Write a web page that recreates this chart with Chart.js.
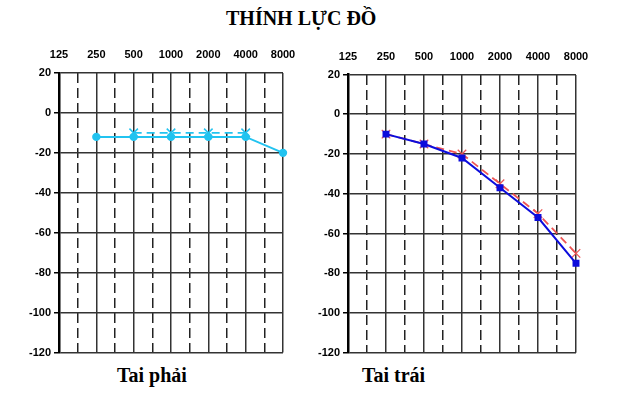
<!DOCTYPE html>
<html>
<head>
<meta charset="utf-8">
<script src="https://cdn.jsdelivr.net/npm/chart.js@4"></script>
<style>
  body { margin: 0; background: #fff; }
  #page { position: relative; width: 640px; height: 406px; background: #fff; overflow: hidden; }
  .txt { position: absolute; font-family: "Liberation Serif", "Times New Roman", serif; font-weight: bold;
         font-size: 20px; line-height: 20px; white-space: nowrap; color: #000; }
  canvas { position: absolute; }
</style>
</head>
<body>
<div id="page">
  <div class="txt" style="left:226px; top:8px;">THÍNH LỰC ĐỒ</div>
  <canvas id="rightEarChart" width="285" height="322" style="left:10px; top:38px;"></canvas>
  <canvas id="leftEarChart" width="285" height="322" style="left:305px; top:38px;"></canvas>
  <div class="txt" style="left:117px; top:365px;">Tai phải</div>
  <div class="txt" style="left:362px; top:365px;">Tai trái</div>
</div>
<script>
// frequency labels along the top (Hz) and dB ticks on the left
const freqLabels = [125, 250, 500, 1000, 2000, 4000, 8000];
const dbTicks = [20, 0, -20, -40, -60, -80, -100, -120];

// Tai phải (right ear)
const rightAirFreqs = [250, 500, 1000, 2000, 4000, 8000];
const rightAirValues = [-12, -12, -12, -12, -12, -20];
const rightBoneFreqs = [500, 1000, 2000, 4000];
const rightBoneValues = [-10, -10, -10, -10];

// Tai trái (left ear)
const leftAirFreqs = [250, 500, 1000, 2000, 4000, 8000];
const leftAirValues = [-10, -15, -22, -37, -52, -75];
const leftBoneFreqs = [250, 500, 1000, 2000, 4000, 8000];
const leftBoneValues = [-10, -15, -20, -35, -50, -70];

const labelFont = { family: '"Liberation Sans", Arial, sans-serif', size: 11, weight: 'bold' };

function toPoints(freqs, values) {
    return freqs.map((f, i) => ({ x: freqLabels.indexOf(f), y: values[i] }));
}

// keep label overflow from shrinking the plot area
function noPad(s) {
    s.paddingLeft = 0;
    s.paddingRight = 0;
    s.paddingTop = 0;
    s.paddingBottom = 0;
}

function makeAudiogram(id, datasets, box) {
    const ctx = document.getElementById(id).getContext('2d');
    const lastIdx = freqLabels.length - 1;
    return new Chart(ctx, {
        type: 'line',
        data: { datasets: datasets },
        options: {
            responsive: false,
            animation: false,
            layout: { padding: { left: 0, top: 0, right: box.padRight, bottom: box.padBottom } },
            plugins: { legend: { display: false }, tooltip: { enabled: false } },
            scales: {
                x: {
                    type: 'linear',
                    position: 'top',
                    min: 0,
                    max: lastIdx,
                    afterBuildTicks: s => { s.ticks = freqLabels.map((f, i) => ({ value: i })); },
                    afterFit: s => { s.height = box.topHeight; noPad(s); },
                    ticks: {
                        callback: v => String(freqLabels[v]),
                        font: labelFont,
                        color: '#000',
                        padding: 11,
                        maxRotation: 0,
                        autoSkip: false
                    },
                    grid: { color: '#333', lineWidth: 1.5, drawTicks: false },
                    border: { display: false }
                },
                // half-octave dashed lines
                xHalf: {
                    type: 'linear',
                    position: 'top',
                    min: 0,
                    max: lastIdx,
                    afterBuildTicks: s => {
                        s.ticks = freqLabels.slice(1).map((f, i) => ({ value: i + 0.5 }));
                    },
                    afterFit: s => { s.height = 0; noPad(s); },
                    ticks: { display: false },
                    grid: { color: '#222', lineWidth: 1.5, drawTicks: false },
                    border: { display: false, dash: [10, 5] }
                },
                y: {
                    type: 'linear',
                    min: dbTicks[dbTicks.length - 1],
                    max: dbTicks[0],
                    afterBuildTicks: s => { s.ticks = dbTicks.map(v => ({ value: v })); },
                    afterFit: s => { s.width = box.leftWidth; noPad(s); },
                    ticks: { font: labelFont, color: '#000', padding: 3 },
                    grid: { color: '#333', lineWidth: 1.5, tickLength: 5, tickColor: '#000', tickWidth: 1.5 },
                    border: { color: '#000', width: 2.5 }
                }
            }
        }
    });
}

// Tai phải
makeAudiogram('rightEarChart', [
    {
        data: toPoints(rightAirFreqs, rightAirValues),
        borderColor: '#22c3f0',
        backgroundColor: '#22c3f0',
        borderWidth: 2,
        pointStyle: 'circle',
        pointRadius: 3.2,
        xAxisID: 'x',
        clip: false
    },
    {
        data: toPoints(rightBoneFreqs, rightBoneValues),
        borderColor: '#22c3f0',
        backgroundColor: '#22c3f0',
        borderWidth: 1.8,
        borderDash: [8, 5],
        pointStyle: 'crossRot',
        pointRadius: 6,
        pointBorderWidth: 1.5,
        xAxisID: 'x',
        clip: false
    }
], { leftWidth: 49, topHeight: 35, padRight: 12, padBottom: 7 });

// Tai trái
makeAudiogram('leftEarChart', [
    {
        data: toPoints(leftAirFreqs, leftAirValues),
        borderColor: '#0c0cdc',
        backgroundColor: '#0c0cdc',
        borderWidth: 2,
        pointStyle: 'rect',
        pointRadius: 3.5,
        xAxisID: 'x',
        clip: false
    },
    {
        data: toPoints(leftBoneFreqs, leftBoneValues),
        borderColor: '#ee5555',
        backgroundColor: '#ee5555',
        borderWidth: 1.8,
        borderDash: [8, 5],
        pointStyle: 'crossRot',
        pointRadius: 6,
        pointBorderWidth: 1.3,
        xAxisID: 'x',
        clip: false
    }
], { leftWidth: 43, topHeight: 36.5, padRight: 14, padBottom: 5.5 });
</script>
</body>
</html>
